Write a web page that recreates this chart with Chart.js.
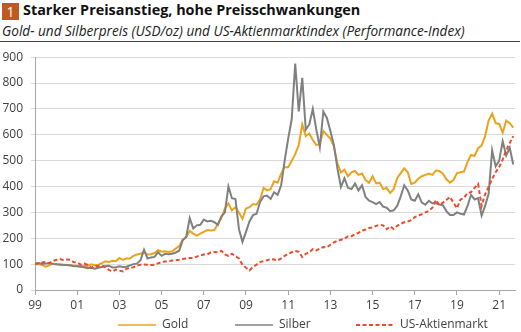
<!DOCTYPE html>
<html>
<head>
<meta charset="utf-8">
<script src="https://cdn.jsdelivr.net/npm/chart.js@4"></script>
<style>
  body { margin: 0; background: #fff; font-family: "Open Sans", sans-serif; }
  #page { position: relative; width: 521px; height: 332px; overflow: hidden; }
  .num { position: absolute; left: 2px; top: 3px; width: 17px; height: 17px; background: #c05a1e; color: #fff;
         font-size: 14px; line-height: 17px; text-align: center; }
  .title { position: absolute; left: 23px; top: 0px; font-size: 14.4px; font-weight: bold; color: #111; white-space: nowrap; }
  .sub { position: absolute; left: 2px; top: 21px; font-size: 13.6px; font-style: italic; color: #222; white-space: nowrap; }
  .rule { position: absolute; left: 0; top: 40.5px; width: 520px; height: 0; border-top: 1.3px solid #444; }
  canvas { position: absolute; left: 0; top: 42px; }
</style>
</head>
<body>
<div id="page">
  <div class="num">1</div>
  <div class="title">Starker Preisanstieg, hohe Preisschwankungen</div>
  <div class="sub">Gold- und Silberpreis (USD/oz) und US-Aktienmarktindex (Performance-Index)</div>
  <div class="rule"></div>
  <canvas id="chart" width="521" height="290"></canvas>
</div>
<script>
// Index, Jan 1999 = 100, every two months (Jan, Mar, May, Jul, Sep, Nov)
const startYear = 1999
const pointsPerYear = 6

const gold = [
  100, 100, 97, 90, 95, 102,
  100, 100, 96, 98, 95, 94,
  93, 91, 94, 93, 99, 96,
  98, 104, 111, 108, 113, 111,
  124, 116, 122, 122, 132, 137,
  140, 146, 137, 138, 143, 154,
  148, 150, 147, 150, 160, 170,
  195, 205, 228, 218, 210, 218,
  225, 232, 230, 232, 255, 278,
  315, 335, 308, 320, 300, 275,
  315, 320, 332, 330, 350, 395,
  385, 390, 420, 415, 450, 475,
  475, 500, 525, 560, 640, 595,
  605, 580, 560, 565, 615, 600,
  585, 555, 490, 455, 465, 440,
  455, 460, 445, 450, 425, 415,
  440, 412, 415, 390, 395, 375,
  390, 432, 452, 470, 455, 410,
  415, 430, 440, 445, 450, 445,
  462, 460, 450, 428, 415, 425,
  452, 455, 458, 495, 522, 518,
  548, 558, 595, 655, 682, 645,
  642, 608, 655, 645, 628
]

const silver = [
  100, 104, 101, 102, 104, 101,
  100, 98, 98, 97, 96, 93,
  92, 90, 88, 84, 86, 82,
  86, 89, 92, 94, 87, 88,
  92, 89, 90, 95, 100, 102,
  115, 155, 122, 126, 128, 146,
  132, 140, 138, 140, 145, 152,
  192, 205, 278, 238, 250, 252,
  272, 265, 268, 262, 252, 285,
  300, 400, 355, 352, 235, 186,
  225, 265, 290, 295, 340, 362,
  365, 352, 378, 368, 405, 500,
  585, 660, 875, 690, 820, 620,
  640, 700, 620, 552, 690, 665,
  615, 560, 470, 398, 432, 395,
  390, 412, 385, 405, 360, 345,
  340, 332, 340, 322, 318, 305,
  308, 325, 362, 405, 385, 350,
  345, 370, 338, 330, 345, 335,
  335, 330, 328, 305, 290, 290,
  300, 295, 292, 325, 368, 350,
  355, 288, 325, 372, 540, 478,
  500, 575, 520, 550, 485
]

const stocks = [
  100, 104, 106, 108, 104, 112,
  116, 120, 116, 118, 117, 108,
  106, 98, 102, 97, 86, 92,
  93, 94, 88, 78, 72, 79,
  75, 72, 82, 86, 88, 94,
  98, 99, 98, 97, 98, 103,
  108, 110, 111, 114, 115, 117,
  120, 122, 124, 124, 129, 134,
  137, 138, 145, 147, 146, 151,
  138, 132, 140, 130, 122, 98,
  86, 76, 90, 98, 108, 112,
  115, 120, 118, 114, 122, 132,
  140, 146, 151, 148, 128, 140,
  146, 158, 153, 160, 166, 165,
  175, 184, 190, 194, 198, 208,
  208, 216, 221, 230, 234, 240,
  242, 248, 252, 250, 235, 246,
  236, 248, 256, 262, 265, 270,
  282, 288, 293, 300, 306, 318,
  348, 328, 338, 348, 360, 338,
  316, 350, 356, 375, 378, 395,
  410, 325, 370, 398, 430, 455,
  475, 505, 540, 568, 595
]

const seriesNames = ['Gold', 'Silber', 'US-Aktienmarkt']
const yTicks = [0, 100, 200, 300, 400, 500, 600, 700, 800, 900]
const xTickYears = [1999, 2001, 2003, 2005, 2007, 2009, 2011, 2013, 2015, 2017, 2019, 2021]

const dates = gold.map((_, i) => startYear + i / pointsPerYear)
const toPoints = values => values.map((v, i) => ({ x: dates[i], y: v }))

const textColor = '#404040'
const font = { family: 'Open Sans', size: 12 }

// legend drawn as line samples, like the original
const lineLegend = {
  id: 'lineLegend',
  afterDraw(chart) {
    const ctx = chart.ctx
    const starts = [118, 235, 356]
    const y = 283
    ctx.save()
    ctx.font = '12px "Open Sans"'
    ctx.textBaseline = 'middle'
    chart.data.datasets.forEach((ds, i) => {
      const x = starts[i]
      ctx.beginPath()
      ctx.strokeStyle = ds.borderColor
      ctx.lineWidth = ds.legendWidth
      ctx.setLineDash(ds.borderDash || [])
      ctx.moveTo(x, y)
      ctx.lineTo(x + 38, y)
      ctx.stroke()
      ctx.setLineDash([])
      ctx.fillStyle = textColor
      ctx.fillText(ds.label, x + 44, y)
    })
    ctx.restore()
  }
}

new Chart(document.getElementById('chart'), {
  type: 'line',
  data: {
    datasets: [
      { label: seriesNames[0], data: toPoints(gold), borderColor: '#eba31d', borderWidth: 2, legendWidth: 1.5, order: 3 },
      { label: seriesNames[1], data: toPoints(silver), borderColor: '#808080', borderWidth: 2, legendWidth: 1.5, order: 2 },
      { label: seriesNames[2], data: toPoints(stocks), borderColor: '#ec4a2c', borderWidth: 2, borderDash: [4, 2.5], legendWidth: 2, order: 1 }
    ]
  },
  options: {
    responsive: false,
    animation: false,
    devicePixelRatio: 1,
    layout: { padding: { top: 12, right: 6, bottom: 20, left: 0 } },
    elements: { point: { radius: 0 }, line: { tension: 0, fill: false } },
    scales: {
      x: {
        type: 'linear',
        min: 1999,
        max: 2021.75,
        afterFit: s => { s.height = 22 },
        afterBuildTicks: s => { s.ticks = xTickYears.map(v => ({ value: v })) },
        ticks: {
          color: textColor, font, padding: 3, maxRotation: 0, autoSkip: false,
          callback: v => String(v).slice(2)
        },
        grid: { drawOnChartArea: false, tickLength: 5, color: '#a6a6a6' },
        border: { color: '#a6a6a6' }
      },
      y: {
        min: 0,
        max: 900,
        afterFit: s => { s.width = 35 },
        afterBuildTicks: s => { s.ticks = yTicks.map(v => ({ value: v })) },
        ticks: { color: textColor, font, padding: 8 },
        grid: { color: '#d9d9d9', tickLength: 4 },
        border: { color: '#a6a6a6' }
      }
    },
    plugins: {
      legend: { display: false },
      tooltip: { enabled: false }
    }
  },
  plugins: [lineLegend]
})
</script>
</body>
</html>
